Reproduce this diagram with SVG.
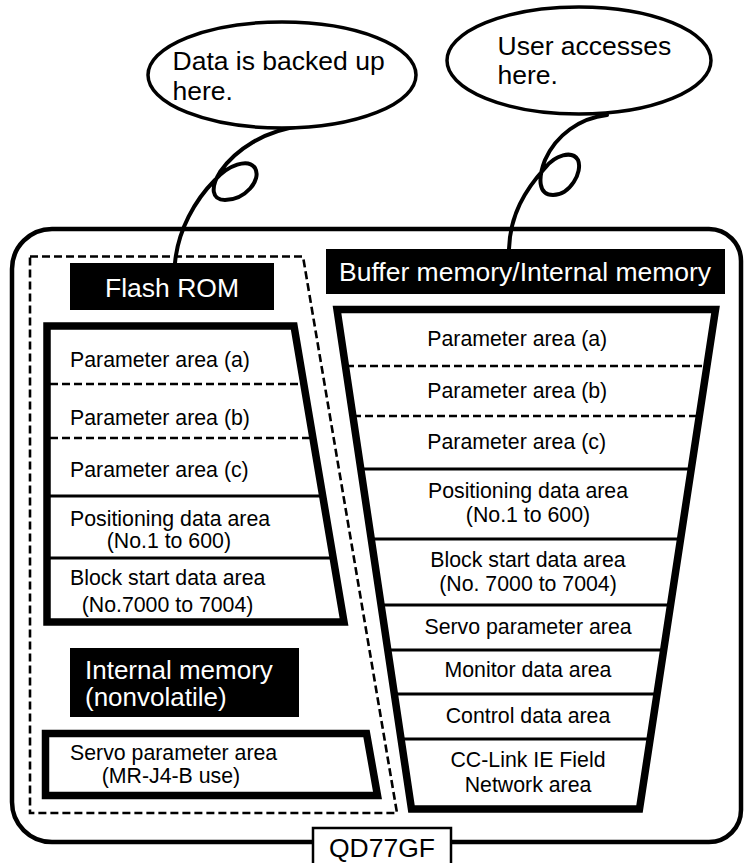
<svg xmlns="http://www.w3.org/2000/svg" width="745" height="863" viewBox="0 0 745 863">
<style>
text{font-family:"Liberation Sans",Arial,Helvetica,sans-serif;fill:#000}
.lbl{font-size:26.5px}
.b{font-size:21.3px}
.w{fill:#fff}
.mid{text-anchor:middle}
.thick{fill:#fff;stroke:#000;stroke-width:7.5;stroke-linejoin:miter}
.sol{fill:none;stroke:#000;stroke-width:3}
.dsh{fill:none;stroke:#000;stroke-width:2.6;stroke-dasharray:8 4}
.curl{fill:none;stroke:#000;stroke-width:4;stroke-linecap:round}
.ell{fill:#fff;stroke:#000;stroke-width:3.5}
.blk{fill:#000}
</style>
<g id="module">
<path d="M52,229 H709 A32,32 0 0 1 741,261 V810 A32,32 0 0 1 709,842 H52 A40,40 0 0 1 12,802 V269 A40,40 0 0 1 52,229 Z" fill="#fff" stroke="#000" stroke-width="4.5"/>
<rect x="313" y="828" width="138" height="40" fill="#fff" stroke="#000" stroke-width="2.5"/>
<text class="lbl mid" x="382" y="857">QD77GF</text>
</g>
<g id="flash-group">
<path class="dsh" d="M30,256.5 H303 L397,813 H30 Z" stroke-width="3"/>
</g>
<g id="connectors">
<path class="curl" d="M302,126 C265,130 235,150 220,172 C210,188 212,200 225,200 C245,200 262,180 255,168 C248,158 228,165 215,180 C195,200 178,230 175,263"/>
<path class="curl" d="M607,115 C580,118 556,135 545,160 C538,178 538,195 553,195 C570,195 583,172 578,160 C572,150 555,155 545,168 C525,190 510,215 509,249"/>
</g>
<g id="callout-backup">
<ellipse class="ell" cx="282" cy="75" rx="134" ry="53"/>
<text class="lbl" x="172.5" y="70">Data is backed up</text>
<text class="lbl" x="172.5" y="100">here.</text>
</g>
<g id="callout-user">
<ellipse class="ell" cx="579" cy="60.5" rx="132" ry="53.5"/>
<text class="lbl" x="497.5" y="55">User accesses</text>
<text class="lbl" x="497.5" y="83.5">here.</text>
</g>
<g id="flash-rom-label">
<rect class="blk" x="70" y="263" width="204" height="47"/>
<text class="lbl w mid" x="172" y="297">Flash ROM</text>
</g>
<g id="flash-rom">
<path class="thick" d="M47,326 H294 L344,622 H47 Z"/>
<path class="dsh" d="M50,384 H304 M50,438 H313"/>
<path class="sol" d="M50,496 H323 M50,558 H333"/>
<text class="b" x="70" y="366.7">Parameter area (a)</text>
<text class="b" x="70" y="425">Parameter area (b)</text>
<text class="b" x="70" y="476.7">Parameter area (c)</text>
<text class="b" x="70" y="525.7">Positioning data area</text>
<text class="b" x="106.7" y="548.3">(No.1 to 600)</text>
<text class="b" x="70" y="585">Block start data area</text>
<text class="b" x="81.7" y="611.5">(No.7000 to 7004)</text>
</g>
<g id="internal-memory-label">
<rect class="blk" x="70" y="648" width="229" height="69"/>
<text class="w" x="85" y="679" font-size="26">Internal memory</text>
<text class="w" x="85" y="705.5" font-size="26">(nonvolatile)</text>
</g>
<g id="internal-memory">
<path class="thick" d="M45.5,733.5 H366.5 L377.5,795.5 H45.5 Z"/>
<text class="b" x="70" y="760">Servo parameter area</text>
<text class="b" x="101.7" y="783.3">(MR-J4-B use)</text>
</g>
<g id="buffer-label">
<rect class="blk" x="326" y="249" width="399" height="45"/>
<text class="lbl w" x="339" y="281">Buffer memory/Internal memory</text>
</g>
<g id="buffer-memory">
<path class="thick" d="M337,309.5 H715.5 L639.5,809 H411.5 Z"/>
<path class="dsh" d="M346,366 H706 M353,416 H699"/>
<path class="sol" d="M361,469 H691 M371,539 H681 M381,605 H670.5 M388,650 H664 M394,694 H657 M401,739 H650"/>
<text class="b" x="427.3" y="346">Parameter area (a)</text>
<text class="b" x="427.3" y="397.7">Parameter area (b)</text>
<text class="b" x="427.3" y="449">Parameter area (c)</text>
<text class="b mid" x="528" y="498.3">Positioning data area</text>
<text class="b mid" x="528" y="521.7">(No.1 to 600)</text>
<text class="b mid" x="528" y="566.7">Block start data area</text>
<text class="b mid" x="528" y="590.7">(No. 7000 to 7004)</text>
<text class="b mid" x="528" y="634.3">Servo parameter area</text>
<text class="b mid" x="528" y="677.3">Monitor data area</text>
<text class="b mid" x="528" y="723.3">Control data area</text>
<text class="b mid" x="528" y="767.3">CC-Link IE Field</text>
<text class="b mid" x="528" y="791.7">Network area</text>
</g>
</svg>
